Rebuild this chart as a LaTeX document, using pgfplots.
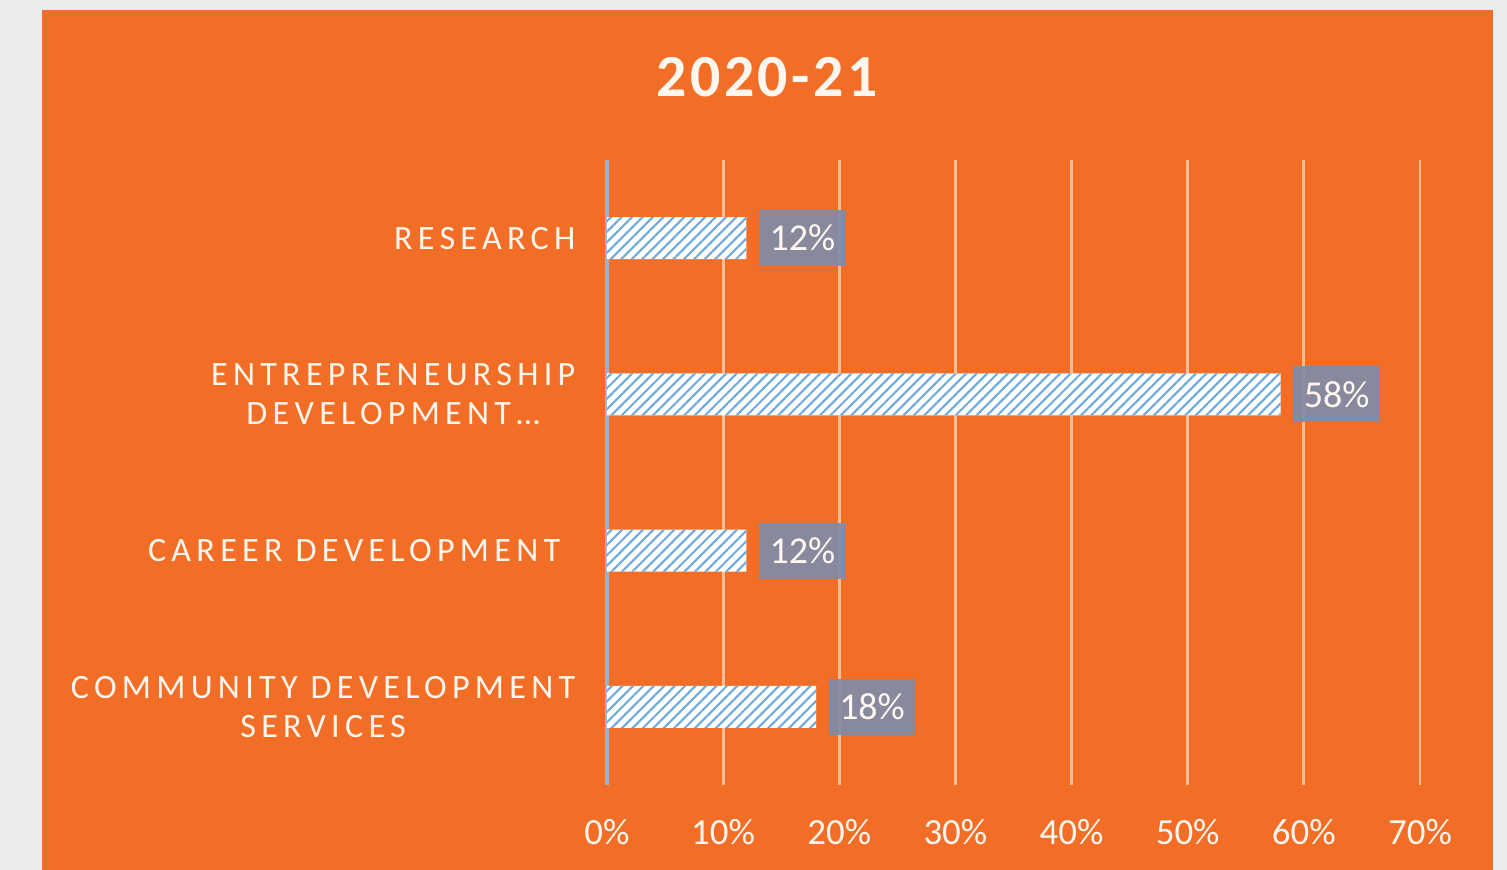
\documentclass[border=0pt]{standalone}
\usepackage{fontspec}
\setmainfont{Carlito}
\newfontfamily\spaced[LetterSpace=15.5]{Carlito}
\newfontfamily\titlefont[LetterSpace=6]{Carlito}
\usepackage{pgfplots}
\pgfplotsset{compat=1.18}
\usetikzlibrary{patterns.meta}
\definecolor{bgorange}{RGB}{242,110,38}
\definecolor{pagegray}{RGB}{235,235,235}
\definecolor{gridorange}{RGB}{249,190,150}
\definecolor{axisgray}{RGB}{170,172,185}
\definecolor{boxgray}{RGB}{130,140,168}
\definecolor{hatchblue}{RGB}{110,170,225}
\definecolor{softwhite}{RGB}{255,246,240}

\begin{document}
\begin{tikzpicture}
% page and chart area (1px = 0.01cm, axis origin at px 607,785)
\fill[pagegray] (-6.07,-0.85) rectangle (9.00,7.85);
\fill[bgorange] (-5.65,-0.85) rectangle (8.86,7.75);
\node[text=softwhite, font=\titlefont\fontsize{17}{20}\selectfont\bfseries] at (1.60,7.08) {2020-21};

\begin{axis}[
  at={(0,0)}, anchor=south west,
  scale only axis,
  width=8.13cm, height=6.25cm,
  xbar, bar width=0.42cm,
  xmin=0, xmax=70,
  ymin=-0.5, ymax=3.5,
  xtick={0,10,...,70},
  xticklabel={\pgfmathprintnumber{\tick}\%},
  ytick={0,1,2,3},
  yticklabels={{COMMUNITY DEVELOPMENT\\SERVICES},{CAREER DEVELOPMENT\hspace*{0.15cm}},{ENTREPRENEURSHIP\\DEVELOPMENT…},{RESEARCH}},
  /pgf/number format/assume math mode=true,
  axis line style={draw=none},
  tick style={draw=none},
  xmajorgrids,
  grid style={draw=gridorange, line width=0.8pt},
  extra x ticks={0},
  extra x tick labels={},
  extra x tick style={grid style={draw=axisgray, line width=1pt}},
  xticklabel style={font=\fontsize{10.5}{12}\selectfont, text=softwhite, anchor=north, inner sep=0pt, yshift=-0.34cm},
  yticklabel style={font=\spaced\fontsize{9.7}{11.2}\selectfont, text=softwhite, align=center, anchor=east, inner sep=0pt, xshift=-0.16cm},
  nodes near coords={\pgfmathprintnumber{\pgfplotspointmeta}\%},
  every node near coord/.append style={font=\fontsize{10.8}{12}\selectfont, text=softwhite,
    fill=boxgray, fill opacity=0.93, text opacity=1, anchor=west, xshift=0.12cm,
    inner xsep=0.105cm, minimum height=0.56cm},
  clip=false,
]
\addplot[draw=none, fill=white,
  postaction={pattern={Lines[angle=45,distance=2.1pt,line width=0.6pt]}, pattern color=hatchblue}]
  coordinates {
  (18,0)
  (12,1)
  (58,2)
  (12,3)
};
\end{axis}
\end{tikzpicture}
\end{document}
